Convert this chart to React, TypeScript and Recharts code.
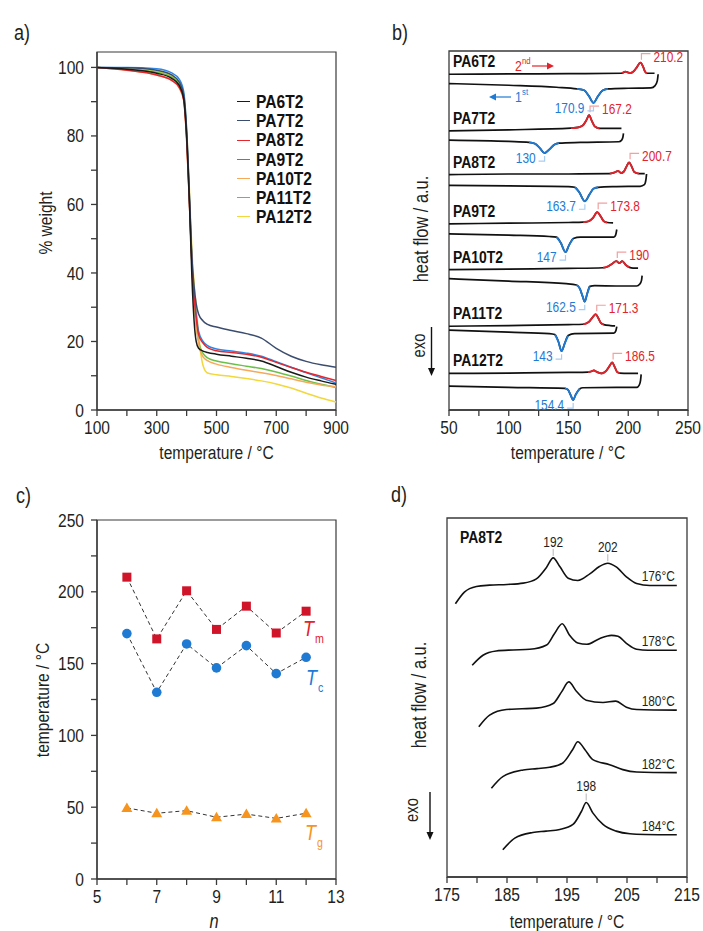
import React from "react";
import { ComposedChart, Line, Scatter, XAxis, YAxis, ReferenceArea, Legend } from "recharts";

const FONT = "'Liberation Sans', Arial, sans-serif";
const SX = 0.82; // horizontal squeeze to mimic a condensed face
const INK = "#231f20";
const AXIS = "#3a3a3a";
const RED = "#e3232b";
const BLUE = "#1d7bd6";
const ORANGE = "#f7941d";

// ---------- a) TGA ----------
const tgaTemps = [100, 200, 300, 350, 375, 390, 400, 410, 418, 425, 432, 440, 455, 470, 500, 550, 600, 650, 700, 750, 800, 850, 900];
const pa6t2Tga = [100, 99.5, 98.3, 96.8, 94.8, 91, 80, 59, 38, 26, 20, 18, 17.2, 16.8, 16.3, 15.7, 15.1, 14.3, 12.7, 11, 9.6, 8.5, 7.5];
const pa7t2Tga = [100, 99.9, 99.2, 97.8, 95.8, 92, 81, 61, 44, 36, 31, 28, 26, 25, 24.2, 23.2, 22.3, 21, 18, 15.7, 14.2, 13.2, 12.5];
const pa8t2Tga = [100, 99.2, 97.8, 96.2, 94.2, 90.5, 79, 59, 42, 33, 27, 22, 19.5, 18.2, 17.3, 16.8, 16.3, 15.4, 13.9, 12.4, 11, 9.8, 8.6];
const pa9t2Tga = [100, 100, 99.6, 98.4, 96.6, 93, 82, 61, 43, 34, 28, 23, 20, 18.8, 17.8, 17.2, 16.6, 15.7, 14.1, 12.5, 10.9, 9.4, 7.9];
const pa10t2Tga = [100, 99.2, 97.8, 96.2, 94, 90.5, 79, 59, 42, 32, 25, 19.5, 15.5, 14.4, 13.4, 12.4, 11.6, 10.9, 10.1, 9.1, 8.1, 7.3, 6.8];
const pa11t2Tga = [100, 99.5, 98.6, 97.2, 95, 91.5, 80, 60, 42, 32, 25, 20, 16.5, 15.2, 14.3, 13.5, 12.8, 12.1, 11.1, 9.9, 8.6, 7.5, 6.6];
const pa12t2Tga = [100, 99.7, 98.8, 97.5, 95.5, 92.5, 82, 63, 46, 37, 30, 22, 13, 10.8, 10.3, 9.8, 9.2, 8.5, 7.6, 6.4, 4.9, 3.5, 2.3];

const tgaSeries = [
  { name: "PA6T2", values: pa6t2Tga, color: "#1a1a1a" },
  { name: "PA7T2", values: pa7t2Tga, color: "#3b4d6e" },
  { name: "PA8T2", values: pa8t2Tga, color: "#e6262d" },
  { name: "PA9T2", values: pa9t2Tga, color: "#2f86e5" },
  { name: "PA10T2", values: pa10t2Tga, color: "#f7a95a" },
  { name: "PA11T2", values: pa11t2Tga, color: "#6cc04a" },
  { name: "PA12T2", values: pa12t2Tga, color: "#f2d83a" },
];
const tgaRows = tgaTemps.map((t, i) => {
  const row: any = { t };
  tgaSeries.forEach((s) => (row[s.name] = s.values[i]));
  return row;
});

// ---------- b) DSC, [temperature, heat flow a.u.] ----------
const pa6t2Heat = [[50, 101], [100, 101.1], [150, 101.2], [194.5, 101.3], [197.5, 101.8], [200, 101.5], [202, 101.4], [204.5, 101.9], [207, 103], [210.2, 104.5], [212.5, 103.2], [214, 101.8], [215.7, 101.3], [222, 101.3]];
const pa6t2Cool = [[50, 98.2], [100, 97.7], [140, 97.1], [157, 96.6], [163, 96.2], [167, 94.5], [170.9, 92.4], [174.5, 94.3], [178.5, 96.1], [183, 96.6], [200, 96.8], [219, 96.9], [222.5, 97.6], [224.3, 99], [225, 101]];
const pa7t2Heat = [[50, 84], [100, 84.3], [152, 84.8], [158, 85], [162, 85.6], [165, 87.2], [167.2, 88.7], [169.5, 87], [172, 85.3], [176, 84.7], [185, 84.7], [194.3, 84.7]];
const pa7t2Cool = [[50, 81.2], [100, 80.8], [117, 80.5], [122, 80.1], [126, 78.8], [130, 77.3], [134, 78.4], [138, 79.8], [142, 80.3], [160, 80.5], [192, 80.7], [194.5, 81.2], [195.6, 82.2], [196, 83.2]];
const pa8t2Heat = [[50, 70.8], [100, 71], [150, 71], [184.5, 71.1], [188, 71.4], [191.5, 71.9], [194, 71.3], [196, 71.6], [198.5, 73.2], [200.7, 74.5], [202.8, 73.3], [205, 71.6], [209, 71.1], [213.8, 71.1]];
const pa8t2Cool = [[50, 67.6], [100, 67.4], [150, 67.2], [155.3, 67], [159, 65.5], [163.7, 62.8], [167.5, 64.8], [171, 66.6], [174.8, 67], [190, 67.2], [210, 67.3], [213.5, 67.8], [214.8, 69.3], [215.3, 71]];
const pa9t2Heat = [[50, 56], [100, 56.2], [150, 56.4], [162.3, 56.5], [167, 56.8], [170.5, 57.8], [174, 59.5], [177, 58.2], [179.5, 56.8], [182.3, 56.4], [187.3, 56.3]];
const pa9t2Cool = [[50, 53], [100, 52.6], [134, 52.2], [140, 52], [143.5, 50.3], [147.5, 47.5], [150.5, 49.6], [154, 51.6], [160, 52], [188, 52], [189.5, 52.7], [190.4, 54.3]];
const pa10t2Heat = [[50, 42.2], [100, 42.4], [150, 42.6], [179, 42.8], [183, 43.2], [186.5, 44], [190, 44.8], [192.5, 44.2], [195, 44.8], [198, 43.6], [201, 42.9], [204, 42.7], [208.2, 42.7]];
const pa10t2Cool = [[50, 39.5], [100, 38.8], [148, 38], [156.7, 37.6], [159.5, 36.5], [161.8, 34.2], [163.6, 32.6], [165.5, 34.8], [167.8, 37.2], [172, 37.4], [190, 37.3], [207, 37.3], [209.7, 37.9], [211.1, 39], [211.6, 40.4]];
const pa11t2Heat = [[50, 25.2], [100, 25.4], [150, 25.7], [162.3, 25.8], [167, 26.5], [170, 27.8], [172.8, 28.8], [175, 27.6], [177, 26.2], [179.5, 25.7], [185, 25.4], [189, 25.3]];
const pa11t2Cool = [[50, 24], [100, 23.4], [134, 23], [138.6, 22.7], [141.5, 20.6], [144.2, 17.7], [146.8, 20], [149.7, 22.4], [155, 23], [188, 23.1], [189.6, 23.8], [190.4, 25.1]];
const pa12t2Heat = [[50, 11], [100, 11.1], [150, 11.3], [166.4, 11.4], [169, 11.6], [171.2, 11.9], [174, 11.4], [177.6, 11], [181, 11.6], [184.3, 13.2], [186.5, 14.3], [188.6, 13], [190.8, 11.4], [192.9, 11.1], [200, 11], [208.2, 11]];
const pa12t2Cool = [[50, 7.2], [100, 6.8], [147, 6.5], [149.5, 6.1], [151.8, 4.5], [153.9, 3], [156, 4.6], [159.5, 6.4], [162, 6.7], [190, 6.8], [207, 6.8], [209.2, 7.5], [210.3, 8.9], [210.8, 10.7]];

const tmValues = [210.2, 167.2, 200.7, 173.8, 190, 171.3, 186.5];
const tcValues = [170.9, 130, 163.7, 147, 162.5, 143, 154.4];

const dscSamples = [
  { name: "PA6T2", heat: pa6t2Heat, cool: pa6t2Cool, melt: [194.5, 215.7], cryst: [157, 183] },
  { name: "PA7T2", heat: pa7t2Heat, cool: pa7t2Cool, melt: [152, 176], cryst: [117, 142] },
  { name: "PA8T2", heat: pa8t2Heat, cool: pa8t2Cool, melt: [184.5, 209], cryst: [155.3, 174.8] },
  { name: "PA9T2", heat: pa9t2Heat, cool: pa9t2Cool, melt: [162.3, 182.3], cryst: [140, 154] },
  { name: "PA10T2", heat: pa10t2Heat, cool: pa10t2Cool, melt: [179, 201], cryst: [156.7, 167.8] },
  { name: "PA11T2", heat: pa11t2Heat, cool: pa11t2Cool, melt: [162.3, 179.5], cryst: [138.6, 149.7] },
  { name: "PA12T2", heat: pa12t2Heat, cool: pa12t2Cool, melt: [166.4, 192.9], cryst: [147, 159.5] },
];

// ---------- c) transitions ----------
const nValues = [6, 7, 8, 9, 10, 11, 12];
const tgValues = [49.5, 45.8, 47.6, 43, 45.2, 42.2, 45.8];
const transRows = nValues.map((n, i) => ({ n, tm: tmValues[i], tc: tcValues[i], tg: tgValues[i] }));

// ---------- d) PA8T2 isothermal ----------
const isoTemps = [176, 178, 180, 182, 184];
const iso176 = [[176.4, 82.2], [177.9, 85.7], [179.9, 87.4], [182.1, 87.8], [185, 88], [187.7, 88.4], [189.9, 89.7], [191.6, 93.2], [192.7, 96], [193.8, 93.4], [195.2, 89.9], [196.8, 89.2], [198.8, 91.2], [200.4, 93.4], [201.8, 94.4], [203.2, 93.3], [204.9, 90.3], [206.6, 88.3], [208.8, 87.7], [213.3, 87.7]];
const iso178 = [[179.2, 63.7], [181, 66.7], [183.2, 68], [186, 68.3], [188.8, 68.5], [191.6, 69.8], [192.9, 73.2], [194.2, 76.2], [195.4, 72.8], [196.8, 70.4], [198.3, 70], [200.4, 71.7], [202.4, 72.7], [203.5, 72.4], [204.9, 70.3], [206.6, 68.5], [208.5, 68.2], [213.3, 68.2]];
const iso180 = [[180.3, 45.2], [182.1, 48.7], [184.9, 50.4], [187.5, 50.6], [189.9, 50.8], [192.7, 52.2], [194.1, 55.7], [195.3, 58.7], [196.6, 55.8], [198.2, 53.2], [201, 52.5], [203.1, 52.9], [204.9, 51.1], [206.6, 50.4], [213.3, 50.2]];
const iso182 = [[182.4, 26.7], [184.3, 30.2], [187.7, 32.2], [190, 32.6], [192.1, 33], [194.3, 34.3], [195.9, 38.2], [196.8, 40.7], [198, 38.3], [199.3, 35.3], [202.1, 33.8], [204.3, 32.3], [206.6, 31.6], [213.3, 31.4]];
const iso184 = [[184.3, 8.2], [186.3, 11.7], [189.3, 13.4], [191.5, 13.8], [193.8, 14.3], [196, 15.8], [197.4, 19.7], [198.2, 22.4], [199.3, 19.3], [201, 15.8], [203.2, 13.8], [205.5, 13], [208, 12.8], [213.3, 12.7]];
const isoCurves = [iso176, iso178, iso180, iso182, iso184];
const isoPeakLabels = [{ curve: 0, t: 192 }, { curve: 0, t: 202 }, { curve: 4, t: 198 }];

// ---------- helpers ----------
type Pt = { t: number; hf: number };
const toPts = (pairs: number[][]): Pt[] => pairs.map(([t, hf]) => ({ t, hf }));
const inRange = (pts: Pt[], r: number[]) => pts.filter((p) => p.t >= r[0] - 1e-9 && p.t <= r[1] + 1e-9);

const meltMarks = dscSamples.map((s, i) => {
  const top = inRange(toPts(s.heat), s.melt).reduce((m, p) => (p.hf > m.hf ? p : m));
  return { t: top.t, hf: top.hf, text: String(tmValues[i]) };
});
const crystMarks = dscSamples.map((s, i) => {
  const low = inRange(toPts(s.cool), s.cryst).reduce((m, p) => (p.hf < m.hf ? p : m));
  return { t: low.t, hf: low.hf, text: String(tcValues[i]) };
});
const nameMarks = dscSamples.map((s) => ({ t: s.heat[0][0], hf: s.heat[0][1], text: s.name }));
const isoEndMarks = isoCurves.map((c, i) => ({ t: c[c.length - 1][0], hf: c[c.length - 1][1], text: `${isoTemps[i]}°C` }));
const isoPeakMarks = isoPeakLabels.map((l) => {
  const near = toPts(isoCurves[l.curve]).filter((p) => Math.abs(p.t - l.t) <= 1.5);
  const top = near.reduce((m, p) => (p.hf > m.hf ? p : m));
  return { t: top.t, hf: top.hf, text: String(l.t) };
});

// condensed text
const CText = ({ x, y, size = 19, anchor = "start", weight = 400, fill = INK, rotate = 0, italic = false, children }: any) => (
  <text transform={`translate(${x} ${y}) rotate(${rotate}) scale(${SX} 1)`} fontSize={size} fontFamily={FONT} fontWeight={weight}
    fontStyle={italic ? "italic" : "normal"} textAnchor={anchor} dominantBaseline="central" fill={fill}>{children}</text>
);

const CondTick = (props: any) => {
  const { x, y, payload, textAnchor, fmt } = props;
  const label = fmt(payload.value);
  if (!label) return null;
  const bottom = textAnchor === "middle";
  return <CText x={x} y={bottom ? y + 7 : y} anchor={textAnchor} size={19}>{label}</CText>;
};

const axisProps = { stroke: AXIS, strokeWidth: 1.3, tickSize: 6, tickLine: { stroke: AXIS, strokeWidth: 1.3 }, interval: 0 as const };

const MeltMark = (p: any) => (
  <g>
    <path d={`M${p.cx + 1},${p.cy - 3}V${p.cy - 9}H${p.cx + 10}`} stroke="#f2a0a0" strokeWidth={1.2} fill="none" />
    <CText x={p.cx + 13} y={p.cy - 6} size={14.5} fill={RED}>{p.payload.text}</CText>
  </g>
);
const CrystMark = (p: any) => (
  <g>
    <path d={`M${p.cx},${p.cy + 3}V${p.cy + 8}H${p.cx - 6}`} stroke="#a9cdf0" strokeWidth={1.2} fill="none" />
    <CText x={p.cx - 9} y={p.cy + 5} size={14.5} anchor="end" fill={BLUE}>{p.payload.text}</CText>
  </g>
);
const NameMark = (p: any) => (
  <CText x={p.cx + 4} y={p.cy - 13} size={17} weight={700} fill="#111">{p.payload.text}</CText>
);
const IsoEndMark = (p: any) => (
  <CText x={p.cx - 2} y={p.cy - 9} size={14.5} anchor="end">{p.payload.text}</CText>
);
const IsoPeakMark = (p: any) => (
  <g>
    <line x1={p.cx} x2={p.cx} y1={p.cy - 2} y2={p.cy - 9} stroke="#b5b5b5" strokeWidth={1} />
    <CText x={p.cx} y={p.cy - 16} size={14.5} anchor="middle">{p.payload.text}</CText>
  </g>
);

const TgaLegend = () => (
  <div style={{ fontFamily: FONT, fontWeight: 700, fontSize: 19, lineHeight: "19.2px", color: "#111" }}>
    {tgaSeries.map((s) => (
      <div key={s.name} style={{ display: "flex", alignItems: "center", whiteSpace: "nowrap" }}>
        <span style={{ display: "inline-block", width: 13, borderTop: `1.6px solid ${s.color}`, marginRight: 6 }} />
        <span style={{ display: "inline-block", transform: `scaleX(${SX})`, transformOrigin: "left center" }}>{s.name}</span>
      </div>
    ))}
  </div>
);

const abs = (left: number, top: number): React.CSSProperties => ({ position: "absolute", left, top });

const ExoArrow = ({ x, tx, y0, y1 }: { x: number; tx: number; y0: number; y1: number }) => (
  <g>
    <CText x={tx} y={(y0 + y1) / 2 - 6} rotate={-90} anchor="middle" size={18}>exo</CText>
    <line x1={x} x2={x} y1={y0} y2={y1 - 7} stroke="#111" strokeWidth={1.4} />
    <polygon points={`${x - 3.5},${y1 - 8} ${x + 3.5},${y1 - 8} ${x},${y1}`} fill="#111" />
  </g>
);

const fmtA_x = (v: number) => ((v - 100) % 200 === 0 ? String(v) : "");
const fmtA_y = (v: number) => (v % 20 === 0 ? String(v) : "");
const fmtB_x = (v: number) => (v % 50 === 0 ? String(v) : "");
const fmtC_x = (v: number) => (v % 2 === 1 ? String(v) : "");
const fmtC_y = (v: number) => (v % 50 === 0 ? String(v) : "");
const fmtD_x = (v: number) => ((v - 175) % 10 === 0 ? String(v) : "");

const App = () => {
  return (
    <div style={{ position: "absolute", left: 0, top: 0, width: 703, height: 931, background: "#fff" }}>
      {/* a) */}
      <div style={abs(0, 40)}>
        <ComposedChart width={350} height={430} data={tgaRows} margin={{ top: 12, right: 14, bottom: 30, left: 57 }}>
          <XAxis type="number" dataKey="t" domain={[100, 900]} ticks={[100, 200, 300, 400, 500, 600, 700, 800, 900]}
            tick={<CondTick fmt={fmtA_x} />} height={30} tickMargin={4} {...axisProps} />
          <YAxis type="number" domain={[0, 104.5]} ticks={[0, 10, 20, 30, 40, 50, 60, 70, 80, 90, 100]}
            tick={<CondTick fmt={fmtA_y} />} width={40} tickMargin={7} {...axisProps} />
          <ReferenceArea x1={100} x2={900} y1={0} y2={104.5} fill="none" fillOpacity={0} stroke={AXIS} strokeWidth={1.2} />
          {tgaSeries.slice().reverse().map((s) => (
            <Line key={s.name} dataKey={s.name} type="monotone" stroke={s.color} strokeWidth={1.5} dot={false} activeDot={false} isAnimationActive={false} />
          ))}
          <Legend layout="vertical" align="center" verticalAlign="middle" content={<TgaLegend />}
            wrapperStyle={{ left: 237, top: 52, width: "auto", height: "auto" }} />
        </ComposedChart>
      </div>

      {/* b) */}
      <div style={abs(350, 40)}>
        <ComposedChart width={353} height={430} margin={{ top: 11, right: 15, bottom: 30, left: 99 }}>
          <XAxis type="number" dataKey="t" domain={[50, 250]} ticks={[50, 75, 100, 125, 150, 175, 200, 225, 250]}
            tick={<CondTick fmt={fmtB_x} />} height={30} tickMargin={4} {...axisProps} />
          <YAxis type="number" dataKey="hf" domain={[0, 108]} hide />
          <ReferenceArea x1={50} x2={250} y1={0} y2={108} fill="none" fillOpacity={0} stroke={AXIS} strokeWidth={1.3} />
          {dscSamples.map((s) => [
            <Line key={s.name + "h"} data={toPts(s.heat)} dataKey="hf" type="monotone" stroke="#111" strokeWidth={1.7} dot={false} activeDot={false} isAnimationActive={false} />,
            <Line key={s.name + "c"} data={toPts(s.cool)} dataKey="hf" type="monotone" stroke="#111" strokeWidth={1.7} dot={false} activeDot={false} isAnimationActive={false} />,
            <Line key={s.name + "m"} data={inRange(toPts(s.heat), s.melt)} dataKey="hf" type="monotone" stroke={RED} strokeWidth={1.9} dot={false} activeDot={false} isAnimationActive={false} />,
            <Line key={s.name + "x"} data={inRange(toPts(s.cool), s.cryst)} dataKey="hf" type="monotone" stroke={BLUE} strokeWidth={1.9} dot={false} activeDot={false} isAnimationActive={false} />,
          ])}
          <Scatter data={meltMarks} dataKey="hf" shape={MeltMark} isAnimationActive={false} />
          <Scatter data={crystMarks} dataKey="hf" shape={CrystMark} isAnimationActive={false} />
          <Scatter data={nameMarks} dataKey="hf" shape={NameMark} isAnimationActive={false} />
        </ComposedChart>
      </div>

      {/* c) */}
      <div style={abs(0, 470)}>
        <ComposedChart width={350} height={461} data={transRows} margin={{ top: 50, right: 14, bottom: 22, left: 57 }}>
          <XAxis type="number" dataKey="n" domain={[5, 13]} ticks={[5, 6, 7, 8, 9, 10, 11, 12, 13]}
            tick={<CondTick fmt={fmtC_x} />} height={30} tickMargin={4} {...axisProps} />
          <YAxis type="number" domain={[0, 250]} ticks={[0, 25, 50, 75, 100, 125, 150, 175, 200, 225, 250]}
            tick={<CondTick fmt={fmtC_y} />} width={40} tickMargin={7} {...axisProps} />
          <ReferenceArea x1={5} x2={13} y1={0} y2={250} fill="none" fillOpacity={0} stroke={AXIS} strokeWidth={1.2} />
          <Line dataKey="tm" type="linear" stroke="#333" strokeWidth={1} strokeDasharray="4 3" isAnimationActive={false} activeDot={false}
            dot={(p: any) => <rect key={"tm" + p.index} x={p.cx - 4.5} y={p.cy - 4.5} width={9} height={9} fill="#d0152b" />} />
          <Line dataKey="tc" type="linear" stroke="#333" strokeWidth={1} strokeDasharray="4 3" isAnimationActive={false} activeDot={false}
            dot={(p: any) => <circle key={"tc" + p.index} cx={p.cx} cy={p.cy} r={4.8} fill="#1f7ad3" />} />
          <Line dataKey="tg" type="linear" stroke="#333" strokeWidth={1} strokeDasharray="4 3" isAnimationActive={false} activeDot={false}
            dot={(p: any) => <polygon key={"tg" + p.index} points={`${p.cx - 5.5},${p.cy + 4} ${p.cx + 5.5},${p.cy + 4} ${p.cx},${p.cy - 5.5}`} fill={ORANGE} />} />
        </ComposedChart>
      </div>

      {/* d) */}
      <div style={abs(350, 470)}>
        <ComposedChart width={353} height={461} margin={{ top: 48, right: 16, bottom: 24, left: 97 }}>
          <XAxis type="number" dataKey="t" domain={[175, 215]} ticks={[175, 180, 185, 190, 195, 200, 205, 210, 215]}
            tick={<CondTick fmt={fmtD_x} />} height={30} tickMargin={4} {...axisProps} />
          <YAxis type="number" dataKey="hf" domain={[0, 108]} hide />
          <ReferenceArea x1={175} x2={215} y1={0} y2={108} fill="none" fillOpacity={0} stroke={AXIS} strokeWidth={1.3} />
          {isoCurves.map((c, i) => (
            <Line key={"iso" + i} data={toPts(c)} dataKey="hf" type="monotone" stroke="#111" strokeWidth={1.6} dot={false} activeDot={false} isAnimationActive={false} />
          ))}
          <Scatter data={isoEndMarks} dataKey="hf" shape={IsoEndMark} isAnimationActive={false} />
          <Scatter data={isoPeakMarks} dataKey="hf" shape={IsoPeakMark} isAnimationActive={false} />
        </ComposedChart>
      </div>

      {/* static titles and annotations */}
      <svg width={703} height={931} style={{ position: "absolute", left: 0, top: 0, pointerEvents: "none" }}>
        <CText x={14} y={32} size={22}>a)</CText>
        <CText x={392} y={32} size={22}>b)</CText>
        <CText x={16} y={495} size={22}>c)</CText>
        <CText x={391} y={494} size={22}>d)</CText>

        <CText x={216.5} y={452} anchor="middle">temperature / °C</CText>
        <CText x={45} y={223} anchor="middle" rotate={-90}>% weight</CText>

        <CText x={568} y={452} anchor="middle">temperature / °C</CText>
        <CText x={420.5} y={229} anchor="middle" rotate={-90} size={20}>heat flow / a.u.</CText>

        <CText x={214} y={921} anchor="middle" italic size={20}>n</CText>
        <CText x={42} y={700} anchor="middle" rotate={-90}>temperature / °C</CText>

        <CText x={567} y={921} anchor="middle">temperature / °C</CText>
        <CText x={419} y={695} anchor="middle" rotate={-90} size={20}>heat flow / a.u.</CText>
        <CText x={460} y={537} size={17} weight={700} fill="#111">PA8T2</CText>

        <ExoArrow x={431.5} tx={418.5} y0={327} y1={376} />
        <ExoArrow x={430} tx={411.5} y0={792} y1={840} />

        {/* 2nd / 1st run markers */}
        <CText x={515} y={66} size={15} fill={RED}>2</CText>
        <CText x={522} y={61} size={9.5} fill={RED}>nd</CText>
        <line x1={532} x2={548} y1={66} y2={66} stroke={RED} strokeWidth={1.2} />
        <polygon points="547,62.5 554,66 547,69.5" fill={RED} />
        <line x1={495} x2={511} y1={97} y2={97} stroke={BLUE} strokeWidth={1.2} />
        <polygon points="496,93.5 489,97 496,100.5" fill={BLUE} />
        <CText x={515} y={97} size={15} fill={BLUE}>1</CText>
        <CText x={522} y={92} size={9.5} fill={BLUE}>st</CText>

        {/* c) series labels */}
        <CText x={303} y={628} size={22} italic fill={RED}>T</CText>
        <CText x={315} y={639} size={13} fill={RED}>m</CText>
        <CText x={306} y={677} size={22} italic fill={BLUE}>T</CText>
        <CText x={318} y={688} size={13} fill={BLUE}>c</CText>
        <CText x={305} y={832} size={22} italic fill={ORANGE}>T</CText>
        <CText x={317} y={843} size={13} fill={ORANGE}>g</CText>
      </svg>
    </div>
  );
};

export default App;
